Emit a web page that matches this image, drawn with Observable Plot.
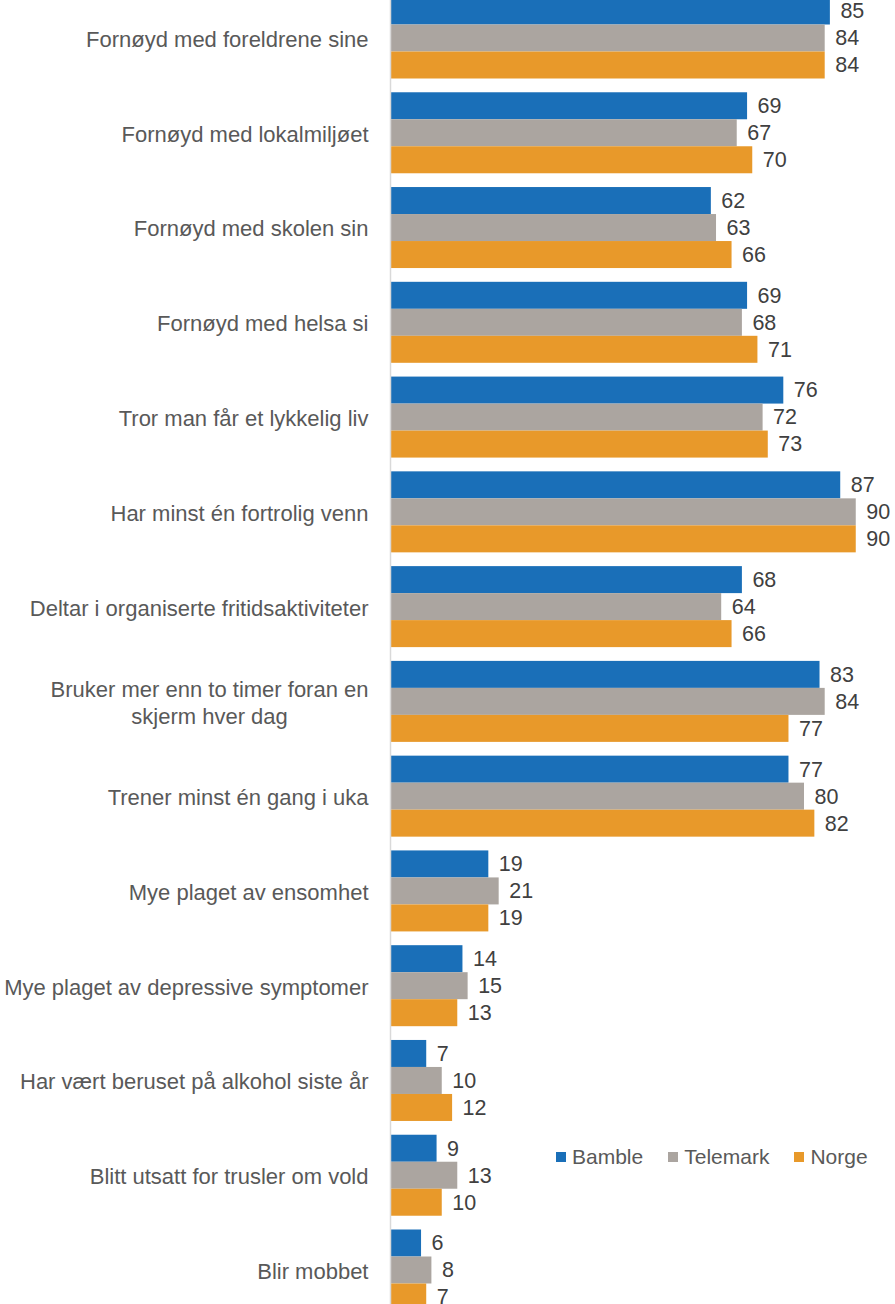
<!DOCTYPE html>
<html>
<head>
<meta charset="utf-8">
<script src="https://cdn.jsdelivr.net/npm/d3@7"></script>
<script src="https://cdn.jsdelivr.net/npm/@observablehq/plot@0.6"></script>
<style>
  html, body { margin: 0; padding: 0; background: #fff; }
  #wrap { position: relative; width: 895px; height: 1304px; overflow: hidden; font-family: "Liberation Sans", Arial, sans-serif; }
  #legend { position: absolute; left: 556px; top: 1146px; display: flex; align-items: center; font-size: 21px; color: #595959; line-height: 22px; }
  #legend .item { display: flex; align-items: center; margin-right: 25px; }
  #legend .sw { width: 10px; height: 10px; margin-right: 6px; }
</style>
</head>
<body>
<div id="wrap"><div id="legend"></div></div>
<script>
const categories = [
  "Fornøyd med foreldrene sine",
  "Fornøyd med lokalmiljøet",
  "Fornøyd med skolen sin",
  "Fornøyd med helsa si",
  "Tror man får et lykkelig liv",
  "Har minst én fortrolig venn",
  "Deltar i organiserte fritidsaktiviteter",
  "Bruker mer enn to timer foran en\nskjerm hver dag",
  "Trener minst én gang i uka",
  "Mye plaget av ensomhet",
  "Mye plaget av depressive symptomer",
  "Har vært beruset på alkohol siste år",
  "Blitt utsatt for trusler om vold",
  "Blir mobbet"
];
const series = ["Bamble", "Telemark", "Norge"];
const colors = ["#1a6fb8", "#aba5a0", "#e8992a"];
const bamble   = [85, 69, 62, 69, 76, 87, 68, 83, 77, 19, 14, 7, 9, 6];
const telemark = [84, 67, 63, 68, 72, 90, 64, 84, 80, 21, 15, 10, 13, 8];
const norge    = [84, 70, 66, 71, 73, 90, 66, 77, 82, 19, 13, 12, 10, 7];

const values = [bamble, telemark, norge];
const data = [];
series.forEach((s, si) => categories.forEach((c, ci) => data.push({cat: c, series: s, si, value: values[si][ci]})));

const bandwidth = 81;
const third = bandwidth / 3;

const marks = [];
series.forEach((s, si) => {
  const d = data.filter(r => r.si === si);
  marks.push(Plot.barX(d, {
    x: "value", y: "cat", fill: colors[si],
    insetTop: third * si, insetBottom: third * (2 - si)
  }));
  marks.push(Plot.text(d, {
    x: "value", y: "cat", text: r => String(r.value),
    dy: third * (si - 1), dx: 10, textAnchor: "start",
    fill: "#404040", fontSize: 21.5
  }));
});
marks.push(Plot.ruleX([0], {stroke: "#d9d9d9", strokeWidth: 1.5}));
marks.push(Plot.axisY({tickSize: 0, tickPadding: 22, fontSize: 22, fill: "#595959", lineHeight: 1.2}));

const chart = Plot.plot({
  width: 895,
  height: 1304,
  marginTop: 0, marginBottom: 0, marginLeft: 390, marginRight: 0,
  style: {fontFamily: "'Liberation Sans', Arial, sans-serif", fontSize: "21px", background: "#fff"},
  x: {domain: [0, 100], range: [390, 907.5], axis: null},
  y: {domain: categories, range: [-2.5, 1310.5], paddingInner: 0.1453, paddingOuter: 0, round: false, label: null},
  marks
});
document.getElementById("wrap").prepend(chart);

// center the second line of the two-line label under the first line
chart.querySelectorAll("text").forEach(t => {
  const tspans = t.querySelectorAll("tspan");
  if (tspans.length === 2 && t.textContent.startsWith("Bruker")) {
    const w = tspans[0].getComputedTextLength();
    t.setAttribute("text-anchor", "middle");
    tspans.forEach(ts => ts.setAttribute("x", String(-w / 2)));
  }
});

const legend = document.getElementById("legend");
series.forEach((s, i) => {
  const item = document.createElement("div");
  item.className = "item";
  const sw = document.createElement("span");
  sw.className = "sw";
  sw.style.background = colors[i];
  const lab = document.createElement("span");
  lab.textContent = s;
  item.append(sw, lab);
  legend.append(item);
});
</script>
</body>
</html>
